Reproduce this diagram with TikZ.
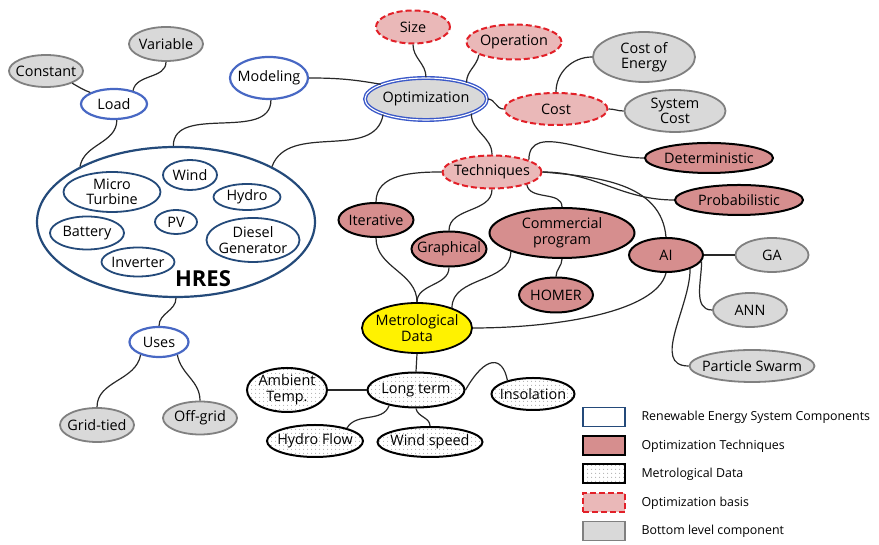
\documentclass[tikz,border=0pt]{standalone}
\usepackage{fontspec}
\setmainfont{Open Sans}
\usetikzlibrary{shapes.geometric,patterns.meta}
\definecolor{ResBlue}{RGB}{72,104,196}
\definecolor{HresNavy}{RGB}{36,74,122}
\definecolor{OptBlue}{RGB}{58,88,200}
\definecolor{BasisRed}{RGB}{226,32,40}
\definecolor{BasisPink}{RGB}{234,184,184}
\definecolor{TechRose}{RGB}{214,142,142}
\definecolor{LeafGray}{RGB}{128,128,128}
\definecolor{LeafFill}{RGB}{217,217,217}
\definecolor{LinkGray}{RGB}{40,40,40}

\begin{document}
\begin{tikzpicture}[x=1pt,y=1pt,
  every node/.style={font=\fontsize{14.4}{15.5}\selectfont,align=center},
  blob/.style 2 args={ellipse,minimum width=#1pt,minimum height=#2pt,inner xsep=-12pt,inner ysep=-3pt},
  res/.style={draw=ResBlue,line width=2.2pt,fill=white},
  hres/.style={draw=HresNavy,line width=2.2pt,fill=white},
  comp/.style={draw=HresNavy,line width=1.8pt,fill=white},
  opt/.style={draw=OptBlue,double=white,double distance=1.1pt,line width=1.4pt,fill=LeafFill},
  basis/.style={draw=BasisRed,dash pattern=on 6pt off 3pt,line width=2pt,fill=BasisPink},
  method/.style={draw=black,line width=2pt,fill=TechRose},
  leaf/.style={draw=LeafGray,line width=1.8pt,fill=LeafFill},
  metro/.style={draw=black,line width=1.8pt,fill=yellow},
  meteo/.style={draw=black,line width=2pt,pattern={Dots[distance=4pt,radius=0.6pt]},pattern color=gray!85},
  link/.style={draw=LinkGray,line width=1.2pt},
  key/.style={rectangle,minimum width=42pt,minimum height=19pt,inner sep=0pt},
  keytxt/.style={anchor=west,font=\fontsize{12.4}{14}\selectfont}]
  \useasboundingbox[fill=white] (0,0) rectangle (879,545);

  \node[res,blob={66}{30}] (load) at (114,441) {Load};
  \node[leaf,blob={74}{32}] (const) at (46,474) {Constant};
  \node[leaf,blob={74}{34}] (var) at (166,501) {Variable};
  \node[res,blob={78}{42}] (mod) at (269,467) {Modeling};
  \node[hres,blob={278}{150}] (hres) at (176,323) {};
  \node[comp,blob={97}{40}] (micro) at (112,353) {Micro\\Turbine};
  \node[comp,blob={54}{30}] (wind) at (190,370) {Wind};
  \node[comp,blob={67}{26}] (hydro) at (247,348) {Hydro};
  \node[comp,blob={42}{24}] (pv) at (176,323) {PV};
  \node[comp,blob={74}{33}] (batt) at (87,312) {Battery};
  \node[comp,blob={93}{44}] (diesel) at (253,305) {Diesel\\Generator};
  \node[comp,blob={73}{29}] (inv) at (138,283) {Inverter};
  \node[font=\fontsize{22}{24}\selectfont\bfseries] (hreslbl) at (203,266) {HRES};
  \node[res,blob={59}{30}] (uses) at (159,203) {Uses};
  \node[leaf,blob={74}{34}] (grid) at (97,120) {Grid-tied};
  \node[leaf,blob={74}{33}] (off) at (200,127) {Off-grid};

  \node[basis,blob={74}{33}] (size) at (413,518) {Size};
  \node[basis,blob={95}{35}] (oper) at (514,503) {Operation};
  \node[opt,blob={122}{42}] (opt) at (426,446) {Optimization};
  \node[basis,blob={103}{32}] (cost) at (556,436) {Cost};
  \node[leaf,blob={102}{50}] (coe) at (644,488) {Cost of\\Energy};
  \node[leaf,blob={101}{42}] (sys) at (675,434) {System\\Cost};
  \node[basis,blob={99}{33}] (tech) at (492,373) {Techniques};
  \node[method,blob={128}{30}] (det) at (709,387) {Deterministic};
  \node[method,blob={128}{30}] (prob) at (739,345) {Probabilistic};
  \node[method,blob={75}{34}] (iter) at (376,325) {Iterative};
  \node[method,blob={75}{35}] (graph) at (449,296) {Graphical};
  \node[method,blob={145}{50}] (comm) at (562,312) {Commercial\\program};
  \node[method,blob={74}{35}] (homer) at (556,250) {HOMER};
  \node[method,blob={74}{34}] (ai) at (666,290) {AI};
  \node[leaf,blob={73}{34}] (ga) at (772,290) {GA};
  \node[leaf,blob={74}{34}] (ann) at (750,235) {ANN};
  \node[leaf,blob={125}{32}] (pso) at (752,179) {Particle Swarm};

  \node[metro,blob={110}{50}] (metro) at (417,217) {Metrological\\Data};
  \node[meteo,blob={97}{35}] (long) at (416,155) {Long term};
  \node[meteo,blob={80}{44}] (amb) at (287,155) {Ambient\\Temp.};
  \node[meteo,blob={83}{32}] (ins) at (533,151) {Insolation};
  \node[meteo,blob={96}{32}] (hflow) at (315,104) {Hydro Flow};
  \node[meteo,blob={105}{30}] (wspeed) at (430,103) {Wind speed};

  \draw[link] (const.-25) to[out=-30,in=160] (load.154);
  \draw[link] (var.south) to[out=-90,in=80] (load.35);
  \draw[link] (load.-80) to[out=-90,in=80] (hres.150);
  \draw[link] (mod.-85) to[out=-90,in=90] (hres.92);
  \draw[link] (mod.east) to[out=0,in=170] (opt.162);
  \draw[link] (opt.200) to[out=-100,in=70] (hres.30);
  \draw[link] (size.south) to[out=-90,in=90] (opt.north);
  \draw[link] (oper.200) to[out=-100,in=90] (opt.22);
  \draw[link] (opt.east) to[out=0,in=180] (cost.west);
  \draw[link] (opt.-18) to[out=-90,in=90] (tech.north);
  \draw[link] (cost.north) to[out=90,in=180] (coe.west);
  \draw[link] (cost.east) to[out=0,in=180] (sys.west);
  \draw[link] (tech.18) .. controls +(0,40) and +(-50,0) .. (det.west);
  \draw[link] (tech.east) to[out=0,in=180] (prob.west);
  \draw[link] (tech.east) to[out=-5,in=95] (ai.north);
  \draw[link] (tech.west) to[out=180,in=90] (iter.north);
  \draw[link] (tech.south) to[out=-90,in=90] (graph.north);
  \draw[link] (tech.-20) to[out=-80,in=90] (comm.north);
  \draw[link] (comm.south) to[out=-90,in=90] (homer.north);
  \draw[link] (iter.south) to[out=-90,in=90] (metro.north);
  \draw[link] (graph.south) to[out=-90,in=90] (metro.north);
  \draw[link] (comm.200) to[out=-90,in=90] (metro.30);
  \draw[link] (ai.south) .. controls +(-10,-40) and +(80,0) .. (metro.east);
  \draw[link] (ai.east) -- (ga.west);
  \draw[link] (ai.-10) to[out=-90,in=180] (ann.west);
  \draw[link] (ai.-30) to[out=-90,in=180] (pso.west);
  \draw[link] (metro.south) -- (long.north);
  \draw[link] (long.west) to[out=180,in=0] (amb.east);
  \draw[link] (long.east) .. controls +(20,35) and +(-5,25) .. (ins.152);
  \draw[link] (long.-150) to[out=-110,in=60] (hflow.22);
  \draw[link] (long.south) to[out=-80,in=90] (wspeed.north);
  \draw[link] (hres.south) to[out=-90,in=90] (uses.north);
  \draw[link] (uses.-145) to[out=-100,in=90] (grid.north);
  \draw[link] (uses.-35) to[out=-80,in=90] (off.north);

  \node[key,draw=HresNavy,line width=1.8pt,fill=white] (k1) at (604,128) {};
  \node[key,method] (k2) at (604,99) {};
  \node[key,meteo] (k3) at (604,71) {};
  \node[key,basis] (k4) at (604,42) {};
  \node[key,leaf] (k5) at (604,14) {};
  \node[keytxt] (t1) at (638,128) {Renewable Energy System Components};
  \node[keytxt] (t2) at (638,99) {Optimization Techniques};
  \node[keytxt] (t3) at (638,71) {Metrological Data};
  \node[keytxt] (t4) at (638,42) {Optimization basis};
  \node[keytxt] (t5) at (638,14) {Bottom level component};
\end{tikzpicture}
\end{document}
